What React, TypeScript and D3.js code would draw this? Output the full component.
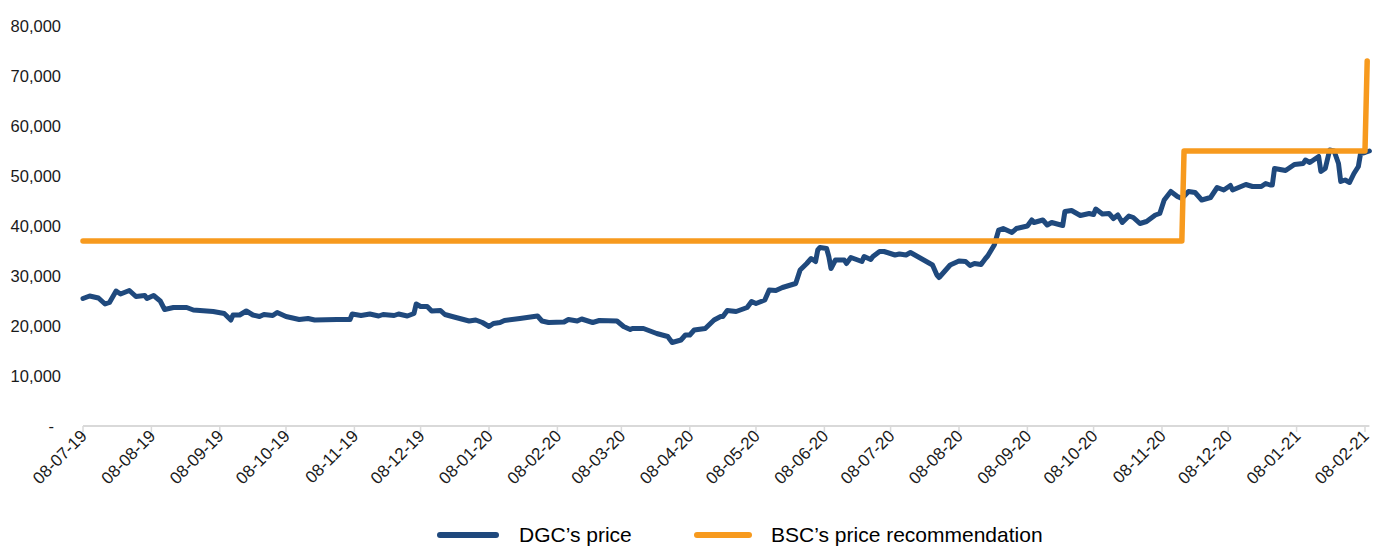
import React, { useEffect, useRef } from 'react';
import * as d3 from 'd3';

// DGC closing price (VND)
const priceDates = [
  '2019-07-08', '2019-07-11', '2019-07-15', '2019-07-18', '2019-07-20', '2019-07-23', '2019-07-25', '2019-07-29',
  '2019-08-01', '2019-08-05', '2019-08-06', '2019-08-09', '2019-08-12', '2019-08-14', '2019-08-18', '2019-08-24',
  '2019-08-27', '2019-08-30', '2019-09-05', '2019-09-10', '2019-09-13', '2019-09-14', '2019-09-17', '2019-09-20',
  '2019-09-23', '2019-09-26', '2019-09-28', '2019-10-02', '2019-10-04', '2019-10-08', '2019-10-14', '2019-10-18',
  '2019-10-21', '2019-10-31', '2019-11-06', '2019-11-07', '2019-11-11', '2019-11-15', '2019-11-19', '2019-11-21',
  '2019-11-26', '2019-11-28', '2019-12-02', '2019-12-05', '2019-12-06', '2019-12-08', '2019-12-11', '2019-12-13',
  '2019-12-17', '2019-12-19', '2019-12-24', '2019-12-30', '2020-01-02', '2020-01-05', '2020-01-08', '2020-01-10',
  '2020-01-13', '2020-01-15', '2020-01-22', '2020-01-30', '2020-02-01', '2020-02-04', '2020-02-11', '2020-02-13',
  '2020-02-17', '2020-02-19', '2020-02-24', '2020-02-27', '2020-03-06', '2020-03-09', '2020-03-12', '2020-03-13',
  '2020-03-18', '2020-03-24', '2020-03-29', '2020-03-31', '2020-04-04', '2020-04-06', '2020-04-08', '2020-04-10',
  '2020-04-15', '2020-04-19', '2020-04-22', '2020-04-23', '2020-04-25', '2020-04-29', '2020-05-04', '2020-05-06',
  '2020-05-08', '2020-05-12', '2020-05-14', '2020-05-17', '2020-05-20', '2020-05-26', '2020-05-28', '2020-05-31',
  '2020-06-02', '2020-06-04', '2020-06-05', '2020-06-06', '2020-06-09', '2020-06-10', '2020-06-11', '2020-06-13',
  '2020-06-17', '2020-06-18', '2020-06-20', '2020-06-25', '2020-06-26', '2020-06-29', '2020-06-30', '2020-07-03',
  '2020-07-05', '2020-07-10', '2020-07-12', '2020-07-15', '2020-07-17', '2020-07-21', '2020-07-27', '2020-07-29',
  '2020-07-30', '2020-08-04', '2020-08-08', '2020-08-11', '2020-08-13', '2020-08-15', '2020-08-18', '2020-08-20',
  '2020-08-21', '2020-08-24', '2020-08-26', '2020-08-28', '2020-09-01', '2020-09-03', '2020-09-08', '2020-09-10',
  '2020-09-11', '2020-09-15', '2020-09-17', '2020-09-19', '2020-09-24', '2020-09-25', '2020-09-28', '2020-10-02',
  '2020-10-06', '2020-10-08', '2020-10-09', '2020-10-12', '2020-10-15', '2020-10-17', '2020-10-19', '2020-10-21',
  '2020-10-24', '2020-10-26', '2020-10-29', '2020-11-01', '2020-11-05', '2020-11-07', '2020-11-09', '2020-11-12',
  '2020-11-15', '2020-11-17', '2020-11-20', '2020-11-23', '2020-11-26', '2020-11-30', '2020-12-03', '2020-12-06',
  '2020-12-09', '2020-12-10', '2020-12-16', '2020-12-19', '2020-12-23', '2020-12-25', '2020-12-27', '2020-12-28',
  '2020-12-29', '2021-01-03', '2021-01-05', '2021-01-07', '2021-01-11', '2021-01-12', '2021-01-14', '2021-01-18',
  '2021-01-19', '2021-01-21', '2021-01-23', '2021-01-25', '2021-01-27', '2021-01-28', '2021-01-30', '2021-02-01',
  '2021-02-03', '2021-02-05', '2021-02-06', '2021-02-08', '2021-02-10',
];
const priceValues = [
  25500, 26000, 25600, 24400, 24700, 27000, 26400, 27100,
  25900, 26100, 25500, 26100, 25000, 23300, 23700, 23700,
  23200, 23100, 22900, 22500, 21200, 22200, 22200, 23000,
  22200, 21900, 22300, 22100, 22700, 21900, 21300, 21500,
  21200, 21300, 21300, 22400, 22100, 22400, 22000, 22300,
  22100, 22400, 22000, 22500, 24400, 23900, 23900, 23000,
  23100, 22300, 21700, 21000, 21200, 20700, 19900, 20500,
  20700, 21100, 21500, 22000, 21000, 20700, 20800, 21300,
  21000, 21400, 20700, 21100, 21000, 19900, 19300, 19500,
  19500, 18500, 17900, 16700, 17200, 18200, 18200, 19200,
  19500, 21200, 21900, 21900, 23100, 22900, 23700, 24900,
  24500, 25200, 27200, 27100, 27700, 28500, 31200, 32500,
  33500, 32900, 35200, 35700, 35500, 33900, 31500, 33200,
  33200, 32500, 33700, 32900, 33900, 33300, 33900, 34900,
  34900, 34200, 34400, 34200, 34700, 33700, 32200, 30200,
  29700, 32200, 33000, 32900, 32100, 32500, 32300, 33500,
  34000, 36200, 39200, 39500, 38700, 39500, 40000, 41200,
  40700, 41200, 40200, 40700, 40100, 42900, 43100, 42100,
  42500, 42300, 43400, 42400, 42500, 41500, 42200, 40700,
  42000, 41700, 40500, 40900, 42200, 42500, 45200, 46900,
  45900, 45500, 46900, 46700, 45200, 45700, 47700, 47200,
  48100, 47200, 48300, 47900, 47900, 48500, 48200, 48200,
  51500, 51100, 51700, 52300, 52500, 53200, 52700, 53900,
  50900, 51500, 55200, 55000, 52500, 48900, 49200, 48700,
  50500, 51900, 54500, 54700, 55000,
];

// BSC target price steps
const targetDates = ['2019-07-08', '2020-11-17', '2020-11-18', '2021-02-08', '2021-02-09'];
const targetValues = [37000, 37000, 55000, 55000, 73000];

const tickDates = [
  '2019-07-08', '2019-08-08', '2019-09-08', '2019-10-08', '2019-11-08', '2019-12-08', '2020-01-08', '2020-02-08',
  '2020-03-08', '2020-04-08', '2020-05-08', '2020-06-08', '2020-07-08', '2020-08-08', '2020-09-08', '2020-10-08',
  '2020-11-08', '2020-12-08', '2021-01-08', '2021-02-08',
];
const yTicks = [0, 10000, 20000, 30000, 40000, 50000, 60000, 70000, 80000];

const seriesNames = ['DGC\u2019s price', 'BSC\u2019s price recommendation'];
const seriesColors = ['#1F497D', '#F79A1E'];

const WIDTH = 1381;
const HEIGHT = 550;
const FONT = '"Liberation Sans", Arial, sans-serif';

export default function App() {
  const ref = useRef<SVGSVGElement>(null);

  useEffect(() => {
    const svg = d3.select(ref.current);
    svg.selectAll('*').remove();

    const parse = d3.timeParse('%Y-%m-%d');
    const fmtTick = d3.timeFormat('%d-%m-%y');

    const x = d3.scaleTime()
      .domain([parse(tickDates[0]) as Date, parse(priceDates[priceDates.length - 1]) as Date])
      .range([83, 1369.4]);

    const y = d3.scaleLinear()
      .domain([0, 80000])
      .range([426, 26]);

    // y labels (no axis line)
    svg.append('g')
      .selectAll('text')
      .data(yTicks)
      .join('text')
      .attr('x', d => (d === 0 ? 54 : 61))
      .attr('y', d => y(d))
      .attr('dy', '0.35em')
      .attr('text-anchor', 'end')
      .style('font-family', FONT)
      .style('font-size', '16.5px')
      .style('fill', '#1a1a1a')
      .text(d => (d === 0 ? '-' : d3.format(',')(d)));

    // x axis line + ticks
    const xAxis = svg.append('g');
    xAxis.append('line')
      .attr('x1', x.range()[0]).attr('x2', x.range()[1])
      .attr('y1', y(0)).attr('y2', y(0))
      .attr('stroke', '#D9D9D9').attr('stroke-width', 2);

    xAxis.selectAll('.tick')
      .data(tickDates)
      .join('line')
      .attr('class', 'tick')
      .attr('x1', d => x(parse(d) as Date)).attr('x2', d => x(parse(d) as Date))
      .attr('y1', y(0)).attr('y2', y(0) + 6)
      .attr('stroke', '#D9D9D9').attr('stroke-width', 1.5);

    xAxis.selectAll('.lbl')
      .data(tickDates)
      .join('text')
      .attr('class', 'lbl')
      .attr('transform', d => 'translate(' + (x(parse(d) as Date) + 5) + ',' + (y(0) + 11) + ') rotate(-45)')
      .attr('text-anchor', 'end')
      .style('font-family', FONT)
      .style('font-size', '17px')
      .style('fill', '#1a1a1a')
      .text(d => fmtTick(parse(d) as Date));

    const line = d3.line<[string, number]>()
      .x(d => x(parse(d[0]) as Date))
      .y(d => y(d[1]));

    // price line
    svg.append('path')
      .datum(priceDates.map((d, i) => [d, priceValues[i]] as [string, number]))
      .attr('fill', 'none')
      .attr('stroke', seriesColors[0])
      .attr('stroke-width', 5)
      .attr('stroke-linejoin', 'round')
      .attr('stroke-linecap', 'round')
      .attr('d', line);

    // recommendation steps, drawn on top
    svg.append('path')
      .datum(targetDates.map((d, i) => [d, targetValues[i]] as [string, number]))
      .attr('fill', 'none')
      .attr('stroke', seriesColors[1])
      .attr('stroke-width', 5.5)
      .attr('stroke-linejoin', 'round')
      .attr('stroke-linecap', 'round')
      .attr('d', line);

    // legend
    const legendX = [[440, 496, 519], [697, 749, 771]];
    const legend = svg.append('g');
    seriesNames.forEach((name, i) => {
      legend.append('line')
        .attr('x1', legendX[i][0]).attr('x2', legendX[i][1])
        .attr('y1', 535).attr('y2', 535)
        .attr('stroke', seriesColors[i])
        .attr('stroke-width', 6)
        .attr('stroke-linecap', 'round');
      legend.append('text')
        .attr('x', legendX[i][2])
        .attr('y', 535)
        .attr('dy', '0.35em')
        .style('font-family', FONT)
        .style('font-size', '21px')
        .style('fill', '#000')
        .text(name);
    });
  }, []);

  return (
    <div style={{ position: 'absolute', left: 0, top: 0 }}>
      <svg ref={ref} width={WIDTH} height={HEIGHT} style={{ display: 'block', background: '#fff' }} />
    </div>
  );
}
